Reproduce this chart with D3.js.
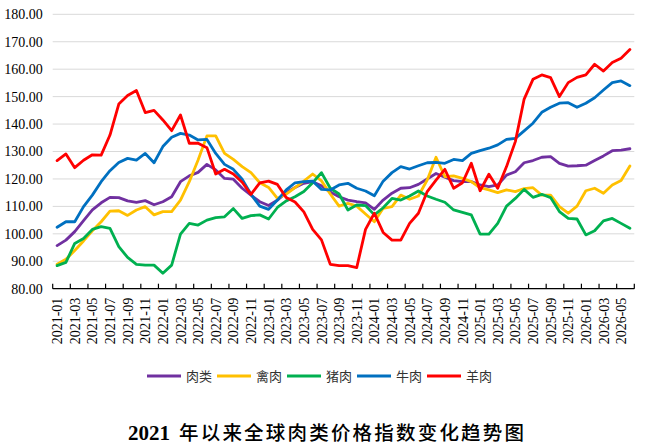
<!DOCTYPE html>
<html><head><meta charset="utf-8">
<script src="https://cdn.jsdelivr.net/npm/d3@7"></script>
<style>
html,body{margin:0;padding:0;background:#fff;}
svg{display:block;}
</style></head>
<body>
<svg id="chart" width="652" height="448"></svg>
<script>
const months = [
"2021-01","2021-02","2021-03","2021-04","2021-05","2021-06","2021-07","2021-08","2021-09","2021-10","2021-11","2021-12",
"2022-01","2022-02","2022-03","2022-04","2022-05","2022-06","2022-07","2022-08","2022-09","2022-10","2022-11","2022-12",
"2023-01","2023-02","2023-03","2023-04","2023-05","2023-06","2023-07","2023-08","2023-09","2023-10","2023-11","2023-12",
"2024-01","2024-02","2024-03","2024-04","2024-05","2024-06","2024-07","2024-08","2024-09","2024-10","2024-11","2024-12",
"2025-01","2025-02","2025-03","2025-04","2025-05","2025-06","2025-07","2025-08","2025-09","2025-10","2025-11","2025-12",
"2026-01","2026-02","2026-03","2026-04","2026-05","2026-06"];

const seriesNames = ["肉类","禽肉","猪肉","牛肉","羊肉"];
const seriesColors = ["#7030A0","#FFC000","#00B050","#0070C0","#FF0000"];

const meat = [95.7,97.7,100.8,104.8,108.7,111.3,113.3,113.2,112.0,111.5,112.1,110.6,111.7,113.5,119.0,121.1,122.4,125.3,123.3,120.2,119.9,116.6,114.1,111.7,110.3,112.3,115.0,116.9,118.4,119.0,117.5,115.2,
113.5,112.3,111.7,111.3,108.9,112.3,114.8,116.6,116.8,118.0,120.0,122.0,120.6,119.4,119.0,119.0,117.8,117.2,117.8,121.4,122.6,125.9,126.7,127.9,128.1,125.7,124.7,124.8,125.0,126.7,128.4,130.3,130.5,131.0];
const poultry = [88.9,90.7,93.9,97.4,101.1,104.4,108.3,108.4,106.7,108.7,109.9,106.9,108.1,108.1,112.3,119.0,126.9,135.7,135.7,129.3,127.1,124.5,122.3,118.6,116.9,112.9,114.5,116.8,119.2,121.8,119.3,114.5,
110.1,111.1,110.1,107.2,104.4,109.3,109.9,114.1,112.6,113.8,119.6,127.9,120.8,121.1,120.2,119.0,116.8,116.0,115.0,116.0,115.4,116.5,116.8,114.1,114.1,109.9,107.5,110.1,115.7,116.6,114.8,117.8,119.4,124.7];
const pork = [88.4,89.6,96.5,98.3,101.6,102.6,102.0,95.3,91.4,88.9,88.6,88.6,85.6,88.6,99.9,103.8,103.2,105.0,105.9,106.2,109.2,105.6,106.6,106.9,105.4,109.6,112.0,113.5,115.4,118.6,122.3,116.6,
114.5,108.7,110.5,110.3,106.9,109.5,112.9,112.3,113.8,115.6,113.8,112.6,111.5,108.7,107.8,106.9,99.9,99.9,103.8,110.1,112.9,116.2,113.3,114.4,113.2,108.1,105.6,105.4,99.6,101.1,104.7,105.6,103.8,102.0];
const beef = [102.4,104.4,104.4,109.9,114.1,119.0,123.0,126.0,127.5,126.9,129.3,125.9,131.8,135.2,136.6,136.0,134.2,134.4,129.3,125.3,123.5,119.9,114.4,110.1,108.9,112.3,116.0,118.6,119.0,119.2,116.2,116.0,
117.8,118.4,116.6,115.6,113.9,119.2,122.3,124.5,123.6,124.8,125.9,126.0,125.7,127.1,126.7,129.3,130.3,131.2,132.4,134.4,134.8,137.5,140.3,144.3,146.1,147.6,147.8,146.1,147.6,149.6,152.4,155.1,155.7,154.0];
const mutton = [126.7,129.1,124.1,126.8,128.8,128.7,136.0,147.3,150.4,152.2,144.2,145.0,141.5,137.6,143.3,133.0,133.0,131.4,121.8,123.5,121.8,118.8,114.4,118.6,119.2,118.0,113.2,111.6,108.0,101.6,97.8,88.9,
88.4,88.4,87.7,101.6,107.5,100.5,97.7,97.7,103.8,107.5,115.4,119.6,123.5,116.6,118.6,125.7,115.7,121.7,116.6,124.5,133.6,149.1,156.3,157.9,156.9,150.0,155.1,157.0,157.9,161.8,159.3,162.4,164.0,167.2];

const yTicks = [80,90,100,110,120,130,140,150,160,170,180];
const titleYear = "2021";
const titleText = "年以来全球肉类价格指数变化趋势图";

const allSeries = [meat, poultry, pork, beef, mutton];

const svg = d3.select("#chart");
const plotLeft = 52.7, plotRight = 634.3, plotTop = 14.3, plotBottom = 288.7;

const x = d3.scaleBand().domain(months).range([plotLeft, plotRight]).padding(0);
const y = d3.scaleLinear().domain([80, 180]).range([plotBottom, plotTop]);

// gridlines
svg.append("g").selectAll("line").data(yTicks.filter(d => d > 80)).join("line")
  .attr("x1", plotLeft).attr("x2", plotRight)
  .attr("y1", d => y(d)).attr("y2", d => y(d))
  .attr("stroke", "#d9d9d9").attr("stroke-width", 1);

// y axis labels
const yAxis = d3.axisLeft(y).tickValues(yTicks).tickFormat(d3.format(".2f")).tickSize(0).tickPadding(10);
const gy = svg.append("g").attr("transform", `translate(${plotLeft},0)`).call(yAxis);
gy.select(".domain").remove();
gy.selectAll("text").attr("font-family", "Liberation Serif, Times New Roman, serif").attr("font-size", 14).attr("fill", "#000");

// x axis line and ticks
const gx = svg.append("g");
gx.append("line").attr("x1", plotLeft).attr("x2", plotRight).attr("y1", plotBottom).attr("y2", plotBottom)
  .attr("stroke", "#000").attr("stroke-width", 1.2);
const tickPos = months.filter((d, i) => i % 2 === 0).map(d => x(d)).concat([plotRight]);
gx.selectAll("line.tk").data(tickPos).join("line").attr("class", "tk")
  .attr("x1", d => d).attr("x2", d => d).attr("y1", plotBottom).attr("y2", plotBottom - 5)
  .attr("stroke", "#000").attr("stroke-width", 1.2);
const labelMonths = months.filter((d, i) => i % 2 === 0);
gx.selectAll("text").data(labelMonths).join("text")
  .attr("transform", d => `translate(${x(d) + x.bandwidth() / 2},${plotBottom + 9}) rotate(-90)`)
  .attr("text-anchor", "end").attr("dy", "0.36em")
  .attr("font-family", "Liberation Serif, Times New Roman, serif").attr("font-size", 14).attr("fill", "#000")
  .text(d => d);

// lines
const line = d3.line().x((d, i) => x(months[i]) + x.bandwidth() / 2).y(d => y(d));
svg.append("g").selectAll("path").data(allSeries).join("path")
  .attr("d", d => line(d))
  .attr("fill", "none")
  .attr("stroke", (d, i) => seriesColors[i])
  .attr("stroke-width", 2.8)
  .attr("stroke-linejoin", "round").attr("stroke-linecap", "round");

// legend
const lg = svg.append("g");
const legX0 = 147, legStep = 70, legY = 376;
seriesNames.forEach((n, i) => {
  const gx0 = legX0 + i * legStep;
  lg.append("line").attr("x1", gx0).attr("x2", gx0 + 34).attr("y1", legY).attr("y2", legY)
    .attr("stroke", seriesColors[i]).attr("stroke-width", 3);
  lg.append("text").attr("x", gx0 + 39).attr("y", legY).attr("dy", "0.36em")
    .attr("font-family", "Noto Sans CJK SC, sans-serif").attr("font-size", 13).attr("fill", "#333")
    .text(n);
});

// title
const tt = svg.append("text").attr("y", 434).attr("dy", "0.36em").attr("fill", "#000");
tt.append("tspan").attr("x", 128)
  .attr("font-family", "Liberation Serif, Times New Roman, serif").attr("font-weight", "bold").attr("font-size", 21)
  .text(titleYear);
tt.append("tspan").attr("x", 179)
  .attr("font-family", "Noto Sans CJK SC, sans-serif").attr("font-weight", 500).attr("font-size", 19.5)
  .attr("letter-spacing", 2.2)
  .text(titleText);
</script>
</body></html>
